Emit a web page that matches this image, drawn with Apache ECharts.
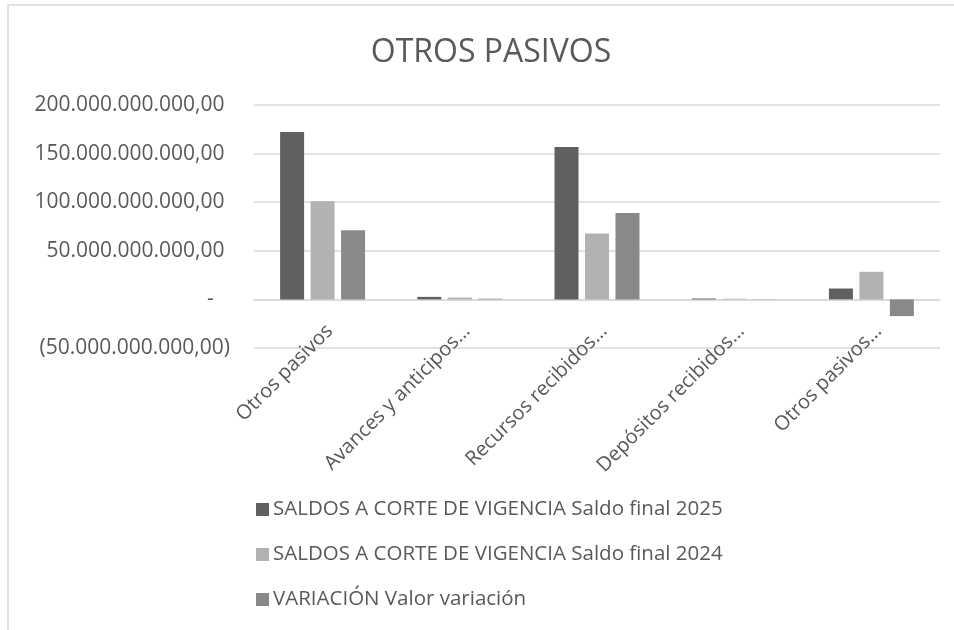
<!DOCTYPE html>
<html>
<head>
<meta charset="utf-8">
<script src="https://cdn.jsdelivr.net/npm/echarts@6/dist/echarts.min.js"></script>
<style>
html, body { margin: 0; padding: 0; background: #fff; }
#chart { width: 954px; height: 630px; }
</style>
</head>
<body>
<div id="chart"></div>
<script>
var categories = ['Otros pasivos', 'Avances y anticipos…', 'Recursos recibidos…', 'Depósitos recibidos…', 'Otros pasivos…'];
var seriesNames = [
  'SALDOS A CORTE DE VIGENCIA Saldo final 2025',
  'SALDOS A CORTE DE VIGENCIA Saldo final 2024',
  'VARIACIÓN Valor variación'
];
var saldo2025 = [172100000000, 2600000000, 156700000000, 900000000, 11200000000];
var saldo2024 = [100900000000, 1900000000, 67900000000, 700000000, 28400000000];
var variacion = [71200000000, 700000000, 88800000000, 200000000, -17200000000];
var colors = ['#606060', '#b2b2b2', '#898989'];

// formato contable estilo Excel
function fmt(v) {
  if (v === 0) return '-   ';
  var s = Math.abs(v).toFixed(0).replace(/\B(?=(\d{3})+(?!\d))/g, '.') + ',00';
  return v < 0 ? '(' + s + ')' : s + ' ';
}

var chart = echarts.init(document.getElementById('chart'));
var font = 'Open Sans';
var option = {
  animation: false,
  color: colors,
  textStyle: { fontFamily: font },
  graphic: [{
    type: 'rect',
    shape: { x: 8, y: 5, width: 1000, height: 700 },
    style: { fill: 'none', stroke: '#d9d9d9', lineWidth: 1.5 },
    silent: true
  }],
  title: {
    text: 'OTROS PASIVOS',
    left: 486,
    top: 32,
    textAlign: 'center',
    textStyle: { fontFamily: font, fontSize: 32, fontWeight: 'normal', color: '#595959' }
  },
  legend: {
    orient: 'vertical',
    left: 251,
    top: 494,
    icon: 'rect',
    itemWidth: 13,
    itemHeight: 13,
    itemGap: 24,
    textStyle: { fontFamily: font, fontSize: 20.5, color: '#595959', padding: [0, 0, 0, -1] }
  },
  grid: { left: 254, right: 14, top: 105, bottom: 282, containLabel: false },
  xAxis: {
    type: 'category',
    data: categories,
    axisLine: { show: true, onZero: true, lineStyle: { color: '#d9d9d9', width: 1.5 } },
    axisTick: { show: false },
    axisLabel: {
      rotate: 45, interval: 0, margin: -27, verticalAlign: 'top', align: 'right',
      fontSize: 20, color: '#595959', fontFamily: font
    }
  },
  yAxis: {
    type: 'value',
    min: -50000000000,
    max: 200000000000,
    interval: 50000000000,
    axisLine: { show: false },
    axisTick: { show: false },
    splitLine: { lineStyle: { color: '#d9d9d9', width: 1.5 } },
    axisLabel: { formatter: fmt, margin: 24, fontSize: 21, color: '#595959', fontFamily: font }
  },
  series: [
    { name: seriesNames[0], type: 'bar', data: saldo2025, barWidth: 24, barGap: '27%' },
    { name: seriesNames[1], type: 'bar', data: saldo2024, barWidth: 24, barGap: '27%' },
    { name: seriesNames[2], type: 'bar', data: variacion, barWidth: 24, barGap: '27%' }
  ]
};
chart.setOption(option);
</script>
</body>
</html>
